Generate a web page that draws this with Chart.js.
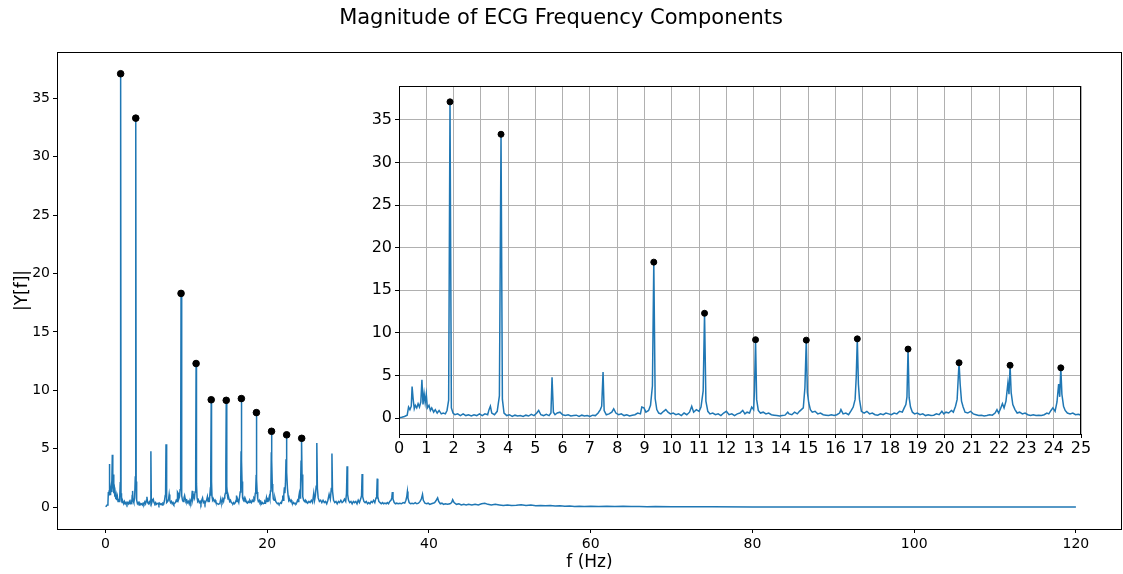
<!DOCTYPE html>
<html>
<head>
<meta charset="utf-8">
<script src="https://cdn.jsdelivr.net/npm/chart.js@4.4.1/dist/chart.umd.min.js"></script>
<style>
  html, body { margin: 0; padding: 0; background: #fff; }
  #wrap { position: relative; width: 1123px; height: 574px; }
  canvas { position: absolute; left: 0; top: 0; }
</style>
</head>
<body>
<div id="wrap">
  <canvas id="mainChart" width="1123" height="574"></canvas>
  <canvas id="insetChart" width="1123" height="574"></canvas>
</div>
<script>
// harmonic peaks that get a black dot
var peakFreqs = [1.87, 3.74, 9.34, 11.20, 13.07, 14.93, 16.80, 18.66, 20.53, 22.40, 24.26];
var peakMags  = [37.1, 33.3, 18.3, 12.3, 9.2, 9.15, 9.3, 8.1, 6.5, 6.2, 5.9];

// |Y[f]|, [f, magnitude]
var spectrumLow = [
  [0,0.05],[0.1,0.1],[0.2,0.2],[0.3,0.35],[0.35,1.3],[0.4,1.0],[0.45,1.4],[0.48,3.7],[0.52,2.2],[0.56,1.1],
  [0.6,1.5],[0.65,1.2],[0.7,1.7],[0.75,1.3],[0.8,1.9],[0.84,4.5],[0.88,1.6],[0.92,2.9],[0.96,1.8],[1.0,2.8],
  [1.04,1.2],[1.1,1.5],[1.15,0.9],[1.2,1.2],[1.27,0.7],[1.33,1.0],[1.4,0.6],[1.47,0.9],[1.55,0.5],[1.62,0.6],
  [1.7,0.5],[1.76,0.9],[1.82,2.1],[1.87,37.1],[1.92,1.2],[1.98,0.6],
  [2.05,0.4],[2.15,0.5],[2.25,0.3],[2.35,0.5],[2.45,0.3],[2.55,0.4],[2.65,0.25],[2.75,0.4],[2.85,0.3],[2.95,0.5],
  [3.05,0.3],[3.15,0.5],[3.25,0.4],[3.3,1.0],[3.35,1.4],[3.4,0.6],[3.5,0.4],[3.6,0.8],[3.68,2.6],[3.74,33.3],
  [3.79,2.2],[3.85,0.6],
  [3.95,0.3],[4.05,0.4],[4.15,0.2],[4.25,0.35],[4.35,0.25],[4.45,0.3],[4.55,0.2],[4.65,0.35],[4.75,0.25],[4.85,0.45],
  [4.95,0.3],[5.05,0.6],[5.12,0.9],[5.2,0.4],[5.3,0.3],[5.4,0.45],[5.5,0.3],[5.57,0.6],[5.61,4.8],[5.66,0.7],[5.72,0.4],
  [5.8,0.6],[5.9,0.7],[6.0,0.4],[6.1,0.3],[6.2,0.4],[6.3,0.25],[6.4,0.3],[6.5,0.35],[6.6,0.2],[6.7,0.35],
  [6.8,0.25],[6.9,0.3],[7.0,0.2],[7.1,0.35],[7.2,0.3],[7.3,0.6],[7.38,1.0],[7.43,1.4],[7.48,5.4],[7.52,0.9],[7.6,0.4],
  [7.7,0.5],[7.8,0.7],[7.87,1.1],[7.95,0.6],[8.05,0.4],[8.15,0.5],[8.25,0.3],[8.35,0.4],[8.45,0.25],[8.55,0.35],
  [8.65,0.4],[8.75,0.6],[8.85,0.5],[8.9,1.3],[8.98,1.2],[9.05,0.7],[9.15,0.9],[9.22,1.5],[9.29,3.8],[9.34,18.3],
  [9.39,2.3],[9.45,1.0],[9.52,0.6],
  [9.6,0.5],[9.7,0.8],[9.78,1.0],[9.86,0.7],[9.95,0.5],[10.05,0.6],[10.15,0.4],[10.25,0.5],[10.35,0.3],[10.45,0.6],
  [10.55,0.4],[10.65,0.7],[10.73,1.4],[10.8,0.7],[10.9,1.0],[11.0,0.8],[11.07,1.3],[11.15,3.2],[11.2,12.3],[11.25,2.0],[11.32,0.8],
  [11.4,0.5],[11.5,0.6],[11.6,0.4],[11.7,0.5],[11.8,0.3],[11.9,0.6],[12.0,0.8],[12.1,0.4],[12.2,0.5],[12.3,0.3],
  [12.4,0.5],[12.5,0.6],[12.6,0.9],[12.68,0.5],[12.76,0.7],[12.85,0.6],[12.93,1.3],[13.0,1.0],[13.03,3.2],[13.07,9.2],
  [13.11,2.2],[13.17,0.9],[13.25,0.6],
  [13.35,0.7],[13.45,0.5],[13.55,0.6],[13.65,0.4],[13.75,0.35],[13.85,0.3],[13.95,0.25],[14.05,0.3],[14.15,0.35],[14.25,0.7],
  [14.3,0.5],[14.4,0.4],[14.5,0.7],[14.6,0.5],[14.68,0.8],[14.75,1.0],[14.82,1.2],[14.88,3.6],[14.93,9.15],[14.97,3.0],
  [15.02,1.8],[15.08,1.0],[15.15,0.7],
  [15.25,0.8],[15.35,0.5],[15.45,0.6],[15.55,0.4],[15.65,0.35],[15.75,0.3],[15.85,0.4],[15.95,0.3],[16.05,0.4],[16.15,0.6],
  [16.2,1.0],[16.28,0.5],[16.38,0.6],[16.48,0.4],[16.58,0.9],[16.65,1.3],[16.72,2.2],[16.76,4.8],[16.8,9.3],[16.84,4.0],
  [16.88,2.2],[16.95,0.8],[17.05,0.6],
  [17.15,0.8],[17.25,0.5],[17.35,0.6],[17.45,0.4],[17.55,0.35],[17.65,0.5],[17.75,0.4],[17.85,0.6],[17.95,0.5],[18.05,0.4],
  [18.15,0.6],[18.25,0.5],[18.35,0.8],[18.45,0.7],[18.52,1.2],[18.58,1.6],[18.62,2.5],[18.66,8.1],[18.7,2.4],[18.75,1.3],
  [18.82,0.7],[18.9,0.5],
  [19.0,0.6],[19.1,0.4],[19.2,0.5],[19.3,0.3],[19.4,0.4],[19.5,0.3],[19.6,0.35],[19.7,0.5],[19.8,0.4],[19.9,0.8],
  [19.97,0.5],[20.05,0.7],[20.15,0.6],[20.25,0.9],[20.32,0.7],[20.4,1.4],[20.46,2.2],[20.5,4.7],[20.53,6.5],[20.57,4.0],
  [20.62,2.0],[20.68,1.3],[20.75,0.7],
  [20.85,0.6],[20.95,0.8],[21.05,0.5],[21.15,0.4],[21.25,0.3],[21.35,0.35],[21.45,0.25],[21.55,0.3],[21.65,0.4],[21.75,0.35],
  [21.85,0.6],[21.92,1.0],[21.98,0.6],[22.05,1.1],[22.12,1.7],[22.18,1.2],[22.25,2.0],[22.32,4.1],[22.36,2.8],[22.4,6.2],
  [22.44,3.0],[22.5,1.6],[22.58,1.0],[22.66,0.6],
  [22.75,0.7],[22.85,0.5],[22.95,0.6],[23.05,0.4],[23.15,0.3],[23.25,0.4],[23.35,0.3],[23.45,0.35],[23.55,0.3],[23.65,0.4],
  [23.75,0.6],[23.82,0.5],[23.9,0.9],[23.97,1.2],[24.05,0.8],[24.12,1.9],[24.18,4.0],[24.22,2.5],[24.26,5.9],[24.3,2.8],
  [24.36,1.4],[24.42,0.9],[24.5,0.6],[24.6,0.5],[24.7,0.6],[24.8,0.4],[24.9,0.45],[25.0,0.35]
];

var spectrumHigh = [
  [25.15,0.5],[25.3,0.4],[25.45,0.6],[25.6,0.4],[25.75,1.2],[25.85,0.6],[25.95,1.0],[26.05,1.8],[26.13,5.5],[26.2,1.6],
  [26.3,0.8],[26.45,0.5],[26.6,0.6],[26.75,0.4],[26.9,0.6],[27.05,0.4],[27.2,0.5],[27.35,0.3],[27.5,0.6],[27.65,1.1],
  [27.8,0.7],[27.92,1.6],[28.0,4.6],[28.07,1.4],[28.2,0.6],[28.35,0.4],[28.5,0.5],[28.65,0.3],[28.8,0.5],[28.95,0.4],
  [29.1,0.6],[29.25,0.4],[29.4,0.5],[29.55,0.7],[29.7,0.5],[29.8,1.2],[29.87,3.5],[29.94,1.1],[30.05,0.6],[30.2,0.4],
  [30.35,0.5],[30.5,0.3],[30.65,0.5],[30.8,0.4],[30.95,0.5],[31.1,0.3],[31.25,0.6],[31.4,0.4],[31.55,0.7],[31.66,1.0],
  [31.73,2.85],[31.8,0.9],[31.95,0.5],[32.1,0.4],[32.25,0.5],[32.4,0.3],[32.55,0.4],[32.7,0.3],[32.85,0.5],[33.0,0.4],
  [33.15,0.6],[33.3,0.4],[33.45,0.8],[33.53,1.0],[33.6,2.45],[33.67,0.9],[33.8,0.5],[33.95,0.4],[34.1,0.3],[34.25,0.4],
  [34.4,0.3],[34.55,0.35],[34.7,0.3],[34.85,0.4],[35.0,0.3],[35.15,0.5],[35.3,0.6],[35.4,0.8],[35.47,1.3],[35.55,0.7],
  [35.7,0.4],[35.85,0.3],[36.0,0.35],[36.2,0.3],[36.4,0.35],[36.6,0.3],[36.8,0.4],[37.0,0.35],[37.15,0.6],[37.25,0.9],
  [37.33,1.35],[37.4,0.8],[37.55,0.4],[37.7,0.3],[37.9,0.35],[38.1,0.3],[38.3,0.4],[38.5,0.3],[38.7,0.35],[38.9,0.5],
  [39.05,0.7],[39.2,1.1],[39.3,0.6],[39.5,0.35],[39.7,0.3],[39.9,0.35],[40.1,0.25],[40.3,0.3],[40.5,0.35],[40.7,0.4],
  [40.9,0.6],[41.07,0.8],[41.2,0.5],[41.4,0.3],[41.6,0.35],[41.8,0.25],[42.0,0.3],[42.3,0.25],[42.6,0.3],[42.8,0.4],
  [42.93,0.65],[43.1,0.4],[43.4,0.25],[43.7,0.3],[44.0,0.2],[44.3,0.25],[44.6,0.2],[44.9,0.25],
  [45.3,0.2],[45.7,0.25],[46.1,0.2],[46.5,0.3],[46.9,0.35],[47.3,0.25],[47.7,0.2],[48.2,0.25],[48.7,0.2],[49.2,0.15],
  [49.7,0.2],[50.2,0.15],[50.8,0.18],[51.4,0.22],[52.0,0.15],[52.6,0.2],[53.2,0.14],[53.8,0.16],[54.4,0.12],[55.0,0.15],
  [55.6,0.1],[56.2,0.12],[56.8,0.09],[57.4,0.1],[58.0,0.07],[58.6,0.09],[59.2,0.06],[60,0.08],[61,0.06],[62,0.09],
  [63,0.07],[64,0.08],[65,0.06],[66,0.07],[67,0.05],[68,0.06],[70,0.04],[72,0.05],[75,0.04],[80,0.03],
  [90,0.03],[100,0.03],[110,0.03],[120,0.03]
];

var mainXTicks = [0, 20, 40, 60, 80, 100, 120];
var insetXTicks = [0,1,2,3,4,5,6,7,8,9,10,11,12,13,14,15,16,17,18,19,20,21,22,23,24,25];
var yTicks = [0, 5, 10, 15, 20, 25, 30, 35];

var BLUE = "#1f77b4";
var FONT = "'DejaVu Sans', sans-serif";

var lineData = spectrumLow.concat(spectrumHigh).map(function(p){ return { x: p[0], y: p[1] }; });
var dotData = peakFreqs.map(function(f, i){ return { x: f, y: peakMags[i] }; });

function setTicks(list){
  return function(scale){ scale.ticks = list.map(function(v){ return { value: v }; }); };
}

// fixed box sizes so the plot area lands where the reference has it
function fixHeight(h){
  return function(s){ s.height = h; s.paddingLeft = 0; s.paddingRight = 0; };
}
function fixWidth(w){
  return function(s){ s.width = w; s.paddingTop = 0; s.paddingBottom = 0; };
}

// matplotlib-like box round the axes, white face for the inset
var frame = {
  id: "frame",
  beforeDraw: function(chart, args, opts){
    if(!opts.fill) return;
    var a = chart.chartArea, ctx = chart.ctx;
    ctx.save();
    ctx.fillStyle = "#fff";
    ctx.fillRect(a.left, a.top, a.right - a.left, a.bottom - a.top);
    ctx.restore();
  },
  afterDraw: function(chart){
    var a = chart.chartArea, ctx = chart.ctx;
    ctx.save();
    ctx.strokeStyle = "#000";
    ctx.lineWidth = 1;
    ctx.strokeRect(Math.round(a.left) + 0.5, Math.round(a.top) + 0.5,
      Math.round(a.right - a.left) - 1, Math.round(a.bottom - a.top));
    ctx.restore();
  }
};

function datasets(dotRadius){
  return [
    { data: dotData, showLine: false, pointRadius: dotRadius, pointBackgroundColor: "#000",
      pointBorderColor: "#000", pointBorderWidth: 1 },
    { data: lineData, borderColor: BLUE, borderWidth: 1.5, pointRadius: 0, tension: 0, fill: false }
  ];
}

Chart.defaults.font.family = FONT;
Chart.defaults.color = "#000";

new Chart(document.getElementById("mainChart"), {
  type: "line",
  data: { datasets: datasets(3.3) },
  plugins: [frame],
  options: {
    responsive: false,
    animation: false,
    devicePixelRatio: 1,
    layout: { autoPadding: false, padding: { left: 0, right: 1, top: 0, bottom: 0 } },
    plugins: {
      legend: { display: false },
      tooltip: { enabled: false },
      frame: { fill: false },
      title: {
        display: true,
        text: "Magnitude of ECG Frequency Components",
        font: { size: 21, weight: "normal", family: FONT, lineHeight: 1.2 },
        color: "#000",
        padding: { top: 6, bottom: 20.8 }
      }
    },
    scales: {
      x: {
        type: "linear", min: -6, max: 125.7,
        afterBuildTicks: setTicks(mainXTicks),
        afterFit: fixHeight(45),
        grid: { display: true, drawOnChartArea: false, drawTicks: true, tickLength: 4, tickColor: "#000" },
        border: { display: false },
        ticks: { font: { size: 14 }, padding: 3, maxRotation: 0 },
        title: { display: true, text: "f (Hz)", font: { size: 17 }, padding: { top: 0, bottom: 1 } }
      },
      y: {
        type: "linear", min: -1.86, max: 38.96,
        afterBuildTicks: setTicks(yTicks),
        afterFit: fixWidth(57),
        grid: { display: true, drawOnChartArea: false, drawTicks: true, tickLength: 4, tickColor: "#000" },
        border: { display: false },
        ticks: { font: { size: 14 }, padding: 3 },
        title: { display: true, text: "|Y[f]|", font: { size: 17 }, padding: { top: 12, bottom: 0 } }
      }
    }
  }
});

new Chart(document.getElementById("insetChart"), {
  type: "line",
  data: { datasets: datasets(3) },
  plugins: [frame],
  options: {
    responsive: false,
    animation: false,
    devicePixelRatio: 1,
    layout: { autoPadding: false, padding: { left: 359, right: 42, top: 86, bottom: 110 } },
    plugins: {
      legend: { display: false },
      tooltip: { enabled: false },
      frame: { fill: true }
    },
    scales: {
      x: {
        type: "linear", min: 0, max: 25,
        afterBuildTicks: setTicks(insetXTicks),
        afterFit: fixHeight(30),
        grid: { color: "#b0b0b0", lineWidth: 1, drawTicks: true, tickLength: 4, tickColor: "#000" },
        border: { display: false },
        ticks: { font: { size: 16 }, padding: 1, maxRotation: 0, autoSkip: false }
      },
      y: {
        type: "linear", min: -1.86, max: 38.96,
        afterBuildTicks: setTicks(yTicks),
        afterFit: fixWidth(40),
        grid: { color: "#b0b0b0", lineWidth: 1, drawTicks: true, tickLength: 4, tickColor: "#000" },
        border: { display: false },
        ticks: { font: { size: 16 }, padding: 3 }
      }
    }
  }
});
</script>
</body>
</html>
